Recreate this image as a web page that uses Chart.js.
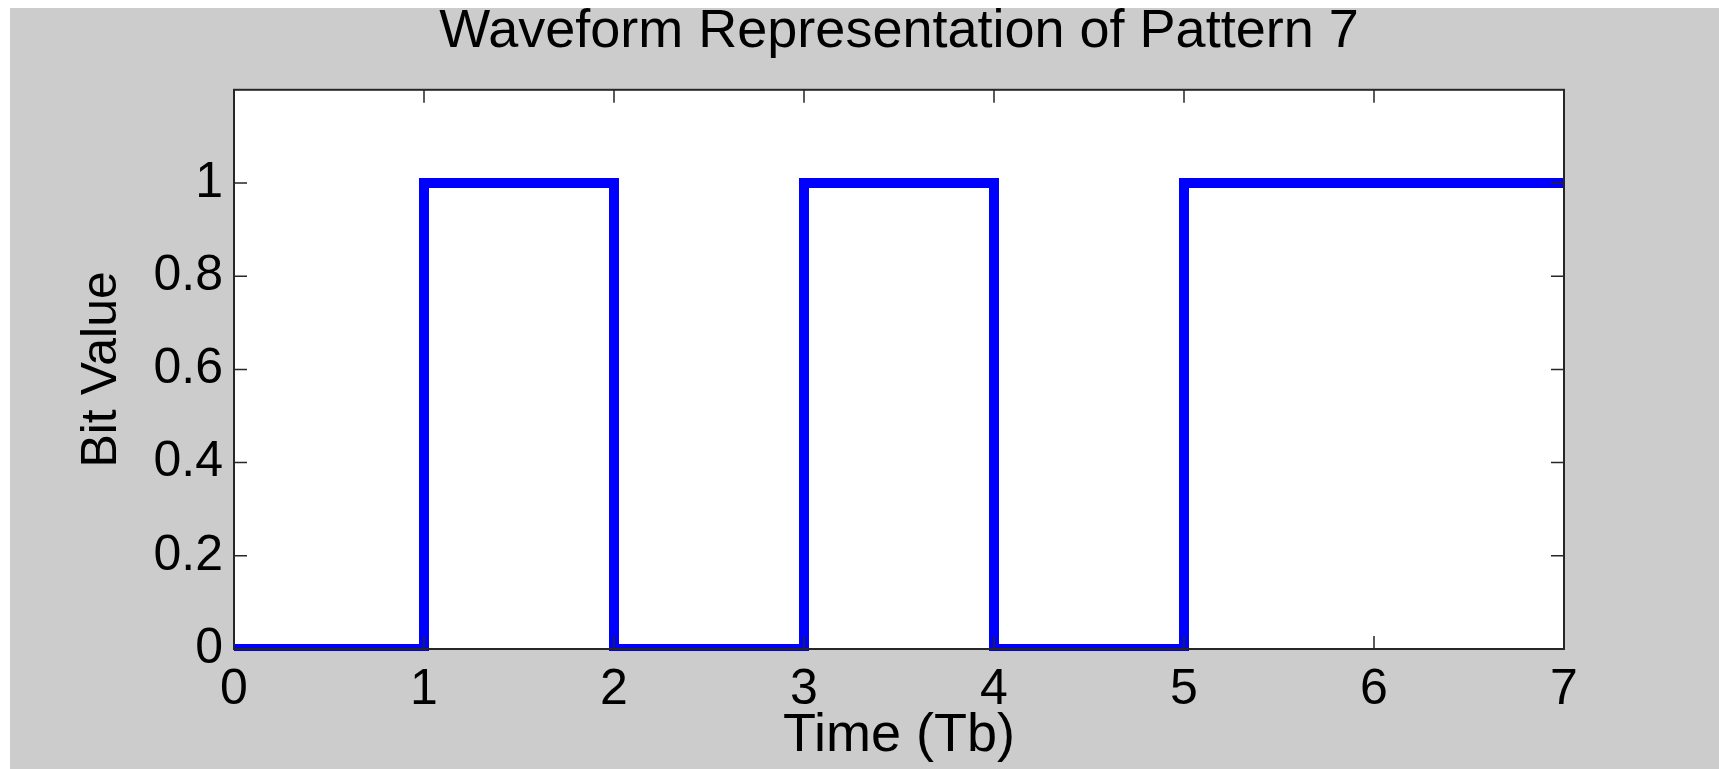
<!DOCTYPE html>
<html>
<head>
<meta charset="utf-8">
<title>Waveform Representation of Pattern 7</title>
<script src="https://cdn.jsdelivr.net/npm/chart.js@4.4.1/dist/chart.umd.min.js"></script>
<style>
  html, body { margin: 0; padding: 0; background: #ffffff; }
  canvas { display: block; }
</style>
</head>
<body>
<canvas id="waveChart" width="1719" height="769"></canvas>
<script>
// bit pattern, one value per bit period (last point closes the final bit)
const timePoints = [0, 1, 2, 3, 4, 5, 6, 7];
const bitValues = [0, 1, 0, 1, 0, 1, 1, 1];

const titleText = 'Waveform Representation of Pattern 7';
const xAxisLabel = 'Time (Tb)';
const yAxisLabel = 'Bit Value';

const FONT = '"Liberation Sans", Arial, sans-serif';

// grey figure background + white axes box, matlab style
const backgroundPlugin = {
    id: 'figureBackground',
    beforeDraw(chart) {
        const c = chart.ctx;
        const area = chart.chartArea;
        c.save();
        c.fillStyle = '#ffffff';
        c.fillRect(0, 0, chart.width, chart.height);
        c.fillStyle = '#cccccc';
        c.fillRect(10, 8, chart.width - 10, chart.height - 8);
        c.fillStyle = '#ffffff';
        c.fillRect(area.left, area.top, area.right - area.left, area.bottom - area.top);
        c.restore();
    }
};

// box frame with inward ticks on all four sides
const frameTicksPlugin = {
    id: 'frameTicks',
    afterDatasetsDraw(chart) {
        const c = chart.ctx;
        const area = chart.chartArea;
        const xs = chart.scales.x;
        const ys = chart.scales.y;
        const len = 13;
        c.save();
        c.strokeStyle = '#262626';
        c.lineWidth = 1.5;
        c.beginPath();
        xs.ticks.forEach(t => {
            const px = xs.getPixelForValue(t.value);
            c.moveTo(px, area.bottom);
            c.lineTo(px, area.bottom - len);
            c.moveTo(px, area.top);
            c.lineTo(px, area.top + len);
        });
        ys.ticks.forEach(t => {
            if (t.value > 1.0001) return;
            const py = ys.getPixelForValue(t.value);
            c.moveTo(area.left, py);
            c.lineTo(area.left + len, py);
            c.moveTo(area.right, py);
            c.lineTo(area.right - len, py);
        });
        c.stroke();
        c.lineWidth = 2;
        c.strokeRect(area.left, area.top, area.right - area.left, area.bottom - area.top);
        c.restore();
    }
};

const ctx = document.getElementById('waveChart').getContext('2d');

const chart = new Chart(ctx, {
    type: 'line',
    data: {
        datasets: [{
            label: 'Pattern 7',
            data: timePoints.map((t, i) => ({ x: t, y: bitValues[i] })),
            borderColor: '#0000ff',
            backgroundColor: '#0000ff',
            borderWidth: 10,
            borderJoinStyle: 'miter',
            pointRadius: 0,
            fill: false,
            stepped: 'before',
            clip: 2
        }]
    },
    options: {
        responsive: false,
        animation: false,
        layout: {
            padding: { left: 0, right: 155, top: 0, bottom: 0 }
        },
        plugins: {
            legend: { display: false },
            tooltip: { enabled: false },
            title: {
                display: true,
                text: titleText,
                fullSize: false,
                color: '#000000',
                font: { family: FONT, size: 54, weight: 'normal', lineHeight: 1.2 },
                padding: { top: 0, bottom: 25 }
            }
        },
        scales: {
            x: {
                type: 'linear',
                min: 0,
                max: 7,
                grid: { display: false, drawTicks: false },
                border: { display: false },
                ticks: {
                    stepSize: 1,
                    padding: 11,
                    color: '#000000',
                    maxRotation: 0,
                    autoSkip: false,
                    font: { family: FONT, size: 50 }
                },
                title: {
                    display: true,
                    text: xAxisLabel,
                    color: '#000000',
                    font: { family: FONT, size: 54, lineHeight: 1.2 },
                    padding: { top: 0, bottom: 0 }
                },
                afterFit: (scale) => { scale.height = 120; }
            },
            y: {
                type: 'linear',
                min: 0,
                max: 1.2,
                grid: { display: false, drawTicks: false },
                border: { display: false },
                ticks: {
                    stepSize: 0.2,
                    padding: 11,
                    color: '#000000',
                    font: { family: FONT, size: 50 },
                    callback: (v) => (v > 1.0001 ? '' : Math.round(v * 10) / 10)
                },
                title: {
                    display: true,
                    text: yAxisLabel,
                    color: '#000000',
                    font: { family: FONT, size: 50, lineHeight: 1.2 },
                    padding: { top: 72, bottom: 0 }
                },
                afterFit: (scale) => { scale.width = 234; }
            }
        }
    },
    plugins: [backgroundPlugin, frameTicksPlugin]
});
</script>
</body>
</html>
